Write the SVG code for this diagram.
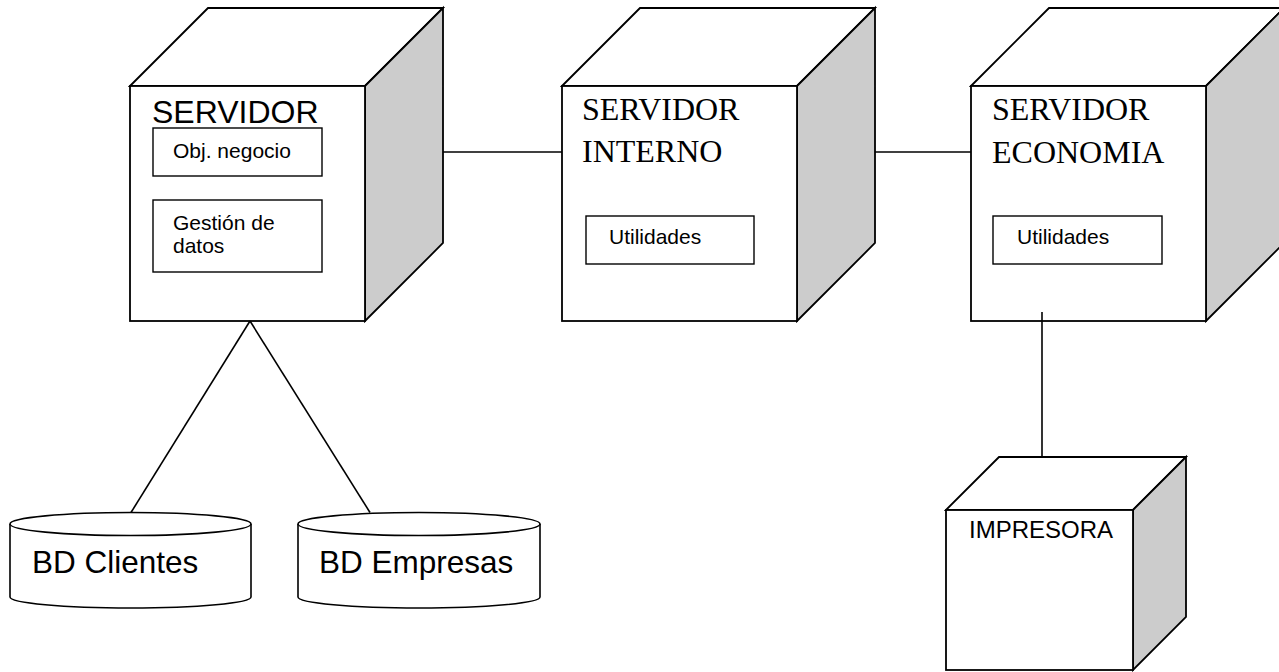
<svg xmlns="http://www.w3.org/2000/svg" width="1279" height="672" viewBox="0 0 1279 672">
<style>
.ln{stroke:#000;stroke-width:1.6;fill:none}
.front{fill:#fff;stroke:#000;stroke-width:1.8}
.top{fill:#fff;stroke:#000;stroke-width:1.8;stroke-linejoin:miter}
.side{fill:#cccccc;stroke:#000;stroke-width:1.8}
.box{fill:#fff;stroke:#000;stroke-width:1.4}
.cyl{fill:#fff;stroke:#000;stroke-width:1.6}
.sans{font-family:"Liberation Sans",Arial,sans-serif;fill:#000}
.serif{font-family:"Liberation Serif","Times New Roman",serif;fill:#000}
</style>
<rect width="1279" height="672" fill="#fff"/>
<g id="servidor">
<polygon class="top" points="130,86 208,8 443,8 365,86"/>
<polygon class="side" points="365,86 443,8 443,243 365,321"/>
<rect class="front" x="130" y="86" width="235" height="235"/>
<text class="sans" x="152" y="123" font-size="32">SERVIDOR</text>
<rect class="box" x="153" y="128" width="169" height="48"/>
<text class="sans" x="173" y="158" font-size="21">Obj. negocio</text>
<rect class="box" x="153" y="200" width="169" height="72"/>
<text class="sans" x="173" y="230" font-size="21">Gestión de</text>
<text class="sans" x="173" y="253" font-size="21">datos</text>
</g>
<g id="servidor-interno">
<polygon class="top" points="562,86 640,8 875,8 797,86"/>
<polygon class="side" points="797,86 875,8 875,243 797,321"/>
<rect class="front" x="562" y="86" width="235" height="235"/>
<text class="serif" x="582" y="120" font-size="32">SERVIDOR</text>
<text class="serif" x="582" y="162" font-size="32">INTERNO</text>
<rect class="box" x="586" y="216" width="168" height="48"/>
<text class="sans" x="609" y="244" font-size="21">Utilidades</text>
</g>
<g id="servidor-economia">
<polygon class="top" points="971,86 1049,8 1284,8 1206,86"/>
<polygon class="side" points="1206,86 1284,8 1284,243 1206,321"/>
<rect class="front" x="971" y="86" width="235" height="235"/>
<text class="serif" x="992" y="120" font-size="32">SERVIDOR</text>
<text class="serif" x="992" y="163" font-size="32">ECONOMIA</text>
<rect class="box" x="993" y="216" width="169" height="48"/>
<text class="sans" x="1017" y="244" font-size="21">Utilidades</text>
</g>
<g id="impresora">
<polygon class="top" points="946,510 999,457 1186,457 1133,510"/>
<polygon class="side" points="1133,510 1186,457 1186,617 1133,670"/>
<rect class="front" x="946" y="510" width="187" height="160"/>
<text class="sans" x="969" y="538" font-size="24">IMPRESORA</text>
</g>
<g id="bd-clientes">
<path class="cyl" d="M10,524 L10,597 A120.5,11 0 0 0 251,597 L251,524"/>
<ellipse class="cyl" cx="130.5" cy="524" rx="120.5" ry="11.5"/>
<text class="sans" x="32" y="573" font-size="31.5">BD Clientes</text>
</g>
<g id="bd-empresas">
<path class="cyl" d="M298,524 L298,597 A121,11 0 0 0 540,597 L540,524"/>
<ellipse class="cyl" cx="419" cy="524" rx="121" ry="11.5"/>
<text class="sans" x="319" y="573" font-size="31.5">BD Empresas</text>
</g>
<g id="connectors">
<line class="ln" x1="443" y1="152" x2="562" y2="152"/>
<line class="ln" x1="875" y1="152" x2="971" y2="152"/>
<line class="ln" x1="250" y1="321" x2="131" y2="512.5"/>
<line class="ln" x1="250" y1="321" x2="370" y2="512.5"/>
<line class="ln" x1="1042" y1="312" x2="1042" y2="457"/>
</g>
</svg>
